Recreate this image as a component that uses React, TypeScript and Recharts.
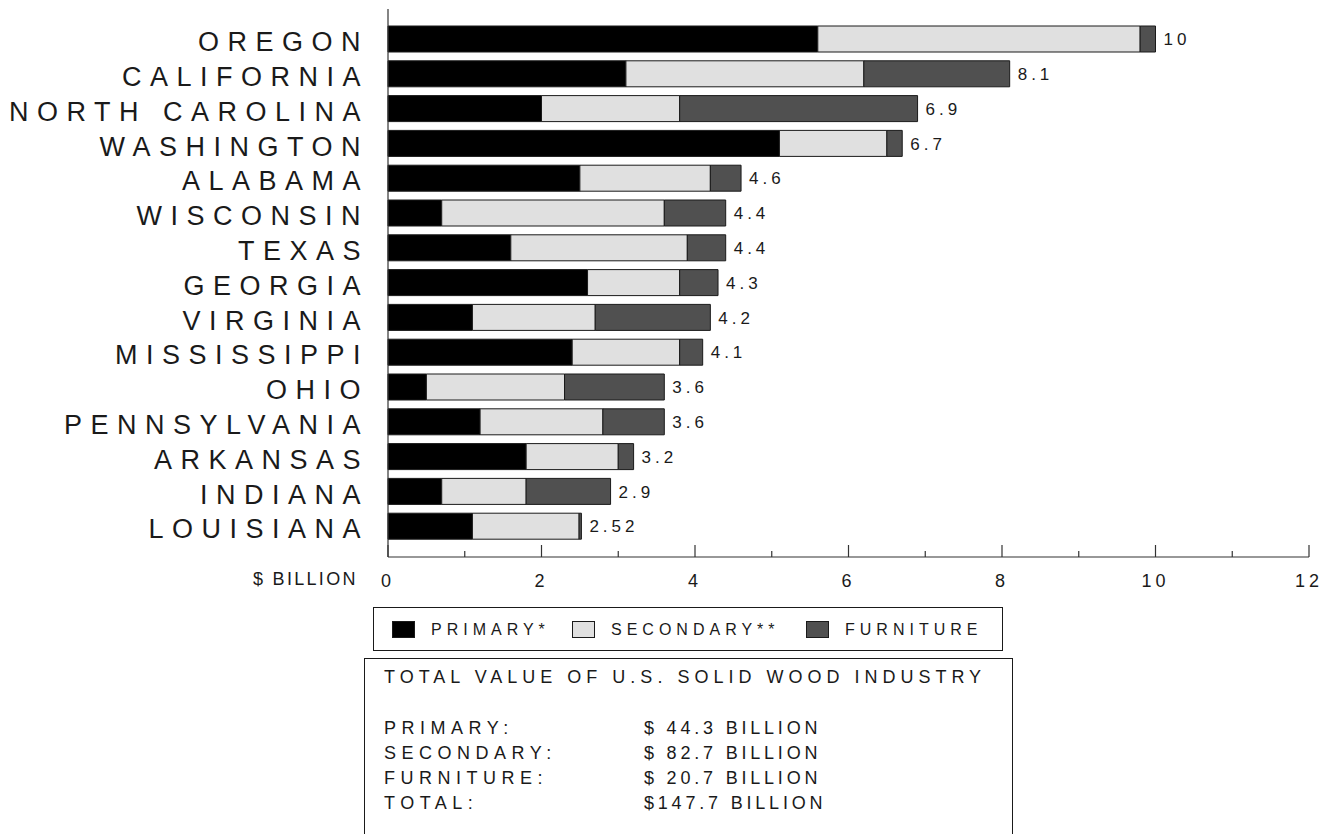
import React from 'react';
import { BarChart, Bar, XAxis, YAxis, LabelList } from 'recharts';

// values in $ billion
const states = [
  'OREGON', 'CALIFORNIA', 'NORTH CAROLINA', 'WASHINGTON', 'ALABAMA',
  'WISCONSIN', 'TEXAS', 'GEORGIA', 'VIRGINIA', 'MISSISSIPPI',
  'OHIO', 'PENNSYLVANIA', 'ARKANSAS', 'INDIANA', 'LOUISIANA',
];
const primary = [5.6, 3.1, 2.0, 5.1, 2.5, 0.7, 1.6, 2.6, 1.1, 2.4, 0.5, 1.2, 1.8, 0.7, 1.1];
const secondary = [4.2, 3.1, 1.8, 1.4, 1.7, 2.9, 2.3, 1.2, 1.6, 1.4, 1.8, 1.6, 1.2, 1.1, 1.39];
const furniture = [0.2, 1.9, 3.1, 0.2, 0.4, 0.8, 0.5, 0.5, 1.5, 0.3, 1.3, 0.8, 0.2, 1.1, 0.03];
const totalLabels = ['10', '8.1', '6.9', '6.7', '4.6', '4.4', '4.4', '4.3', '4.2', '4.1', '3.6', '3.6', '3.2', '2.9', '2.52'];
const xTicks = [0, 1, 2, 3, 4, 5, 6, 7, 8, 9, 10, 11, 12];

const legendNames = ['PRIMARY*', 'SECONDARY**', 'FURNITURE'];
const summaryLabels = ['PRIMARY:', 'SECONDARY:', 'FURNITURE:', 'TOTAL:'];
const summaryValues = ['$ 44.3 BILLION', '$ 82.7 BILLION', '$ 20.7 BILLION', '$147.7 BILLION'];

const data = states.map((state, i) => ({
  state,
  primary: primary[i],
  secondary: secondary[i],
  furniture: furniture[i],
  label: totalLabels[i],
}));

const FONT = '"Liberation Sans", Arial, sans-serif';
const COLORS = ['#000000', '#e0e0e0', '#505050'];
const INK = '#1a1a1a';

const StateTick = (props: any) => {
  const { x, y, payload } = props;
  return (
    <text x={x} y={y + 2} dy="0.36em" textAnchor="end" fontSize={27} letterSpacing={8.5}
      fontFamily={FONT} fill={INK}>
      {payload.value}
    </text>
  );
};

const ValueTick = (props: any) => {
  const { x, y, payload } = props;
  const v = payload.value;
  const major = v % 2 === 0;
  return (
    <g>
      <line x1={x} x2={x} y1={y} y2={y - (major ? 12 : 6)} stroke="#333" strokeWidth={1.2} />
      {major && (
        <text x={x} y={y + 30} textAnchor="middle" fontSize={18} letterSpacing={4}
          fontFamily={FONT} fill={INK}>
          {v}
        </text>
      )}
    </g>
  );
};

const renderTotal = (p: any) => (
  <text x={p.x + p.width + 8} y={p.y + p.height / 2} dy="0.36em" fontSize={17} letterSpacing={4}
    fontFamily={FONT} fill={INK}>
    {p.value}
  </text>
);

// put a line of html text so that its baseline lands on y
const at = (left: number, baseline: number, size: number): React.CSSProperties => ({
  position: 'absolute',
  left,
  top: baseline - 0.846 * size,
  fontSize: size,
  lineHeight: 1,
  whiteSpace: 'pre',
});

export default function App() {
  return (
    <div style={{ position: 'absolute', left: 0, top: 0, width: 1335, height: 834, overflow: 'hidden',
      background: '#fff', fontFamily: FONT, color: INK }}>
      <BarChart width={1335} height={600} data={data} layout="vertical"
        margin={{ top: 9, right: 26, bottom: 13, left: 0 }} barSize={26}>
        <XAxis type="number" domain={[0, 12]} ticks={xTicks} interval={0} height={30}
          tickSize={0} tickMargin={0} tickLine={false} tick={<ValueTick />}
          axisLine={{ stroke: '#333', strokeWidth: 1.2 }} />
        <YAxis type="category" dataKey="state" width={388} padding={{ top: 13, bottom: 13 }}
          tickSize={0} tickMargin={19} tickLine={false} tick={<StateTick />} interval={0}
          axisLine={{ stroke: '#333', strokeWidth: 1.2 }} />
        <Bar dataKey="primary" stackId="a" fill={COLORS[0]} stroke={INK} strokeWidth={1} isAnimationActive={false} />
        <Bar dataKey="secondary" stackId="a" fill={COLORS[1]} stroke={INK} strokeWidth={1} isAnimationActive={false} />
        <Bar dataKey="furniture" stackId="a" fill={COLORS[2]} stroke={INK} strokeWidth={1} isAnimationActive={false}>
          <LabelList dataKey="label" content={renderTotal} />
        </Bar>
      </BarChart>

      <div style={{ ...at(253, 585, 18), letterSpacing: 2.3 }}>$ BILLION</div>

      {/* legend */}
      <div style={{ position: 'absolute', left: 373, top: 607, width: 630, height: 44,
        border: `1px solid ${INK}`, boxSizing: 'border-box' }} />
      {legendNames.map((name, i) => {
        const sx = [392, 572, 806][i];
        return (
          <React.Fragment key={name}>
            <div style={{ position: 'absolute', left: sx, top: 621, width: 23, height: 17,
              background: COLORS[i], border: `1px solid ${INK}`, boxSizing: 'border-box' }} />
            <div style={{ ...at(sx + 39, 636, 16), letterSpacing: 5 }}>{name}</div>
          </React.Fragment>
        );
      })}

      {/* summary box */}
      <div style={{ position: 'absolute', left: 364, top: 658, width: 649, height: 220,
        border: `1px solid ${INK}`, boxSizing: 'border-box' }} />
      <div style={{ ...at(384, 683, 18), letterSpacing: 5 }}>TOTAL VALUE OF U.S. SOLID WOOD INDUSTRY</div>
      {summaryLabels.map((label, i) => (
        <React.Fragment key={label}>
          <div style={{ ...at(384, 734 + i * 25, 18), letterSpacing: 5.5 }}>{label}</div>
          <div style={{ ...at(644, 734 + i * 25, 18), letterSpacing: 3.8 }}>{summaryValues[i]}</div>
        </React.Fragment>
      ))}
    </div>
  );
}
